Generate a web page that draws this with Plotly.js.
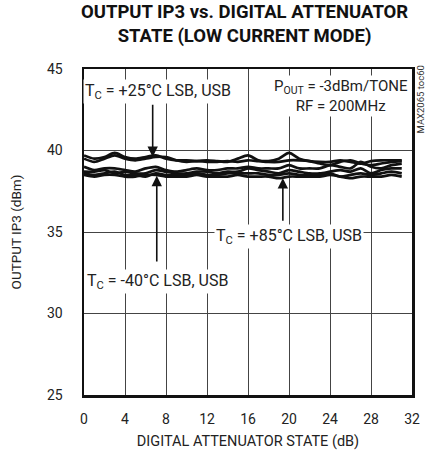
<!DOCTYPE html>
<html>
<head>
<meta charset="utf-8">
<script src="https://cdn.plot.ly/plotly-3.0.1.min.js"></script>
<style>html,body{margin:0;padding:0;background:#fff;}#chart{width:427px;height:457px;}</style>
</head>
<body>
<div id="chart"></div>
<script>
const attenState = [0,1,2,3,4,5,6,7,8,9,10,11,12,13,14,15,16,17,18,19,20,21,22,23,24,25,26,27,28,29,30,31];
const ip3_25_a = [39.7,39.5,39.6,39.85,39.6,39.5,39.6,39.7,39.5,39.4,39.4,39.35,39.4,39.35,39.3,39.5,39.7,39.4,39.35,39.5,39.85,39.5,39.35,39.3,39.3,39.4,39.3,39.2,39.35,39.4,39.4,39.4];
const ip3_25_b = [39.5,39.3,39.5,39.7,39.5,39.4,39.5,39.6,39.6,39.4,39.3,39.35,39.3,39.3,39.35,39.3,39.4,39.35,39.3,39.3,39.4,39.4,39.35,39.2,39.1,39.3,39.4,39.2,39.1,39.2,39.3,39.35];
const ip3_85_a = [39.0,38.8,38.9,38.9,38.8,38.7,38.9,39.0,38.8,38.7,38.8,38.9,38.8,38.8,38.9,38.9,39.0,38.9,38.9,38.9,39.1,38.9,38.9,38.9,39.1,39.0,38.9,39.3,39.0,38.9,39.1,39.2];
const ip3_85_b = [38.7,38.7,38.8,38.6,38.7,38.6,38.6,38.8,38.7,38.6,38.6,38.7,38.7,38.6,38.7,38.7,38.9,38.8,38.7,38.6,38.8,38.7,38.6,38.6,38.7,38.8,38.7,38.9,38.6,38.8,38.9,38.9];
const ip3_m40_a = [38.6,38.5,38.6,38.7,38.5,38.5,38.4,38.6,38.5,38.5,38.5,38.6,38.5,38.5,38.6,38.6,38.6,38.6,38.5,38.5,38.6,38.5,38.5,38.5,38.6,38.4,38.5,38.6,38.5,38.6,38.7,38.6];
const ip3_m40_b = [38.5,38.4,38.5,38.5,38.4,38.4,38.5,38.5,38.4,38.4,38.4,38.5,38.4,38.4,38.4,38.5,38.4,38.4,38.4,38.3,38.4,38.4,38.4,38.4,38.5,38.4,38.3,38.4,38.4,38.4,38.5,38.4];
const xTicks = [0,4,8,12,16,20,24,28,32];
const yTicks = [25,30,35,40,45];

const series = [ip3_25_a, ip3_25_b, ip3_85_a, ip3_85_b, ip3_m40_a, ip3_m40_b];
const traces = series.map(s => ({
  x: attenState, y: s, type: 'scatter', mode: 'lines',
  line: {color: '#111', width: 2.7, shape: 'spline', smoothing: 0.8},
  showlegend: false, hoverinfo: 'none'
}));

const FONT = 'Roboto, "DejaVu Sans Condensed", sans-serif';
const arrow = (x, y0, y1) => ({
  x: x, y: y1, ax: x, ay: y0, xref: 'x', yref: 'y', axref: 'x', ayref: 'y',
  text: '', showarrow: true, arrowhead: 2, arrowsize: 1.3, arrowwidth: 1.6, arrowcolor: '#111'
});

const layout = {
  width: 427, height: 457,
  margin: {l: 84, r: 15, t: 69, b: 62},
  paper_bgcolor: '#fff', plot_bgcolor: '#fff',
  font: {family: FONT, size: 13, color: '#222'},
  xaxis: {
    range: [0, 32], tickvals: xTicks, ticktext: xTicks.map(String),
    showgrid: true, gridcolor: '#444', gridwidth: 1,
    showline: true, linecolor: '#111', linewidth: 2.5, mirror: true,
    ticks: '', ticklabelstandoff: 10, zeroline: false,
    tickfont: {family: FONT, size: 14, color: '#222'},
    title: {text: 'DIGITAL ATTENUATOR STATE (dB)', standoff: 10, font: {family: FONT, size: 14.5, color: '#222'}}
  },
  yaxis: {
    range: [25, 45], tickvals: yTicks, ticktext: yTicks.map(String),
    showgrid: true, gridcolor: '#444', gridwidth: 1,
    showline: true, linecolor: '#111', linewidth: 2.5, mirror: true,
    ticks: '', ticklabelstandoff: 16, zeroline: false,
    tickfont: {family: FONT, size: 14, color: '#222'},
    title: {text: 'OUTPUT IP3 (dBm)', standoff: 22, font: {family: FONT, size: 13.5, color: '#222'}}
  },
  annotations: [
    arrow(6.7, 42.9, 39.6),
    arrow(7.1, 33.1, 38.45),
    arrow(19.4, 35.6, 38.3),
    {x: 7.2, y: 43.6, xref: 'x', yref: 'y', showarrow: false, bgcolor: '#fff', borderpad: 1,
     text: 'T<sub>C</sub> = +25°C LSB, USB', font: {family: FONT, size: 16, color: '#222'}},
    {x: 7.2, y: 31.95, xref: 'x', yref: 'y', showarrow: false, bgcolor: '#fff', borderpad: 1,
     text: 'T<sub>C</sub> = -40°C LSB, USB', font: {family: FONT, size: 16, color: '#222'}},
    {x: 20.0, y: 34.7, xref: 'x', yref: 'y', showarrow: false, bgcolor: '#fff', borderpad: 1,
     text: 'T<sub>C</sub> = +85°C LSB, USB', font: {family: FONT, size: 16, color: '#222'}},
    {x: 25.1, y: 43.35, xref: 'x', yref: 'y', showarrow: false, bgcolor: '#fff', borderpad: 1,
     align: 'center',
     text: 'P<sub>OUT</sub> = -3dBm/TONE<br>RF = 200MHz', font: {family: FONT, size: 15, color: '#222'}},
    {x: 1.0, y: 1.0, xref: 'paper', yref: 'paper', xanchor: 'left', yanchor: 'top', xshift: 1, yshift: 4,
     showarrow: false, textangle: -90, borderpad: 0, text: 'MAX2065 toc60', font: {family: FONT, size: 9.5, color: '#333'}},
    {x: 0.49, y: 1, xref: 'paper', yref: 'paper', xanchor: 'center', yanchor: 'bottom', yshift: 20,
     showarrow: false, text: '<b>OUTPUT IP3 vs. DIGITAL ATTENUATOR<br>STATE (LOW CURRENT MODE)</b>',
     font: {family: FONT, size: 18.5, color: '#111'}}
  ]
};

Plotly.newPlot('chart', traces, layout, {staticPlot: true, displayModeBar: false});
</script>
</body>
</html>
